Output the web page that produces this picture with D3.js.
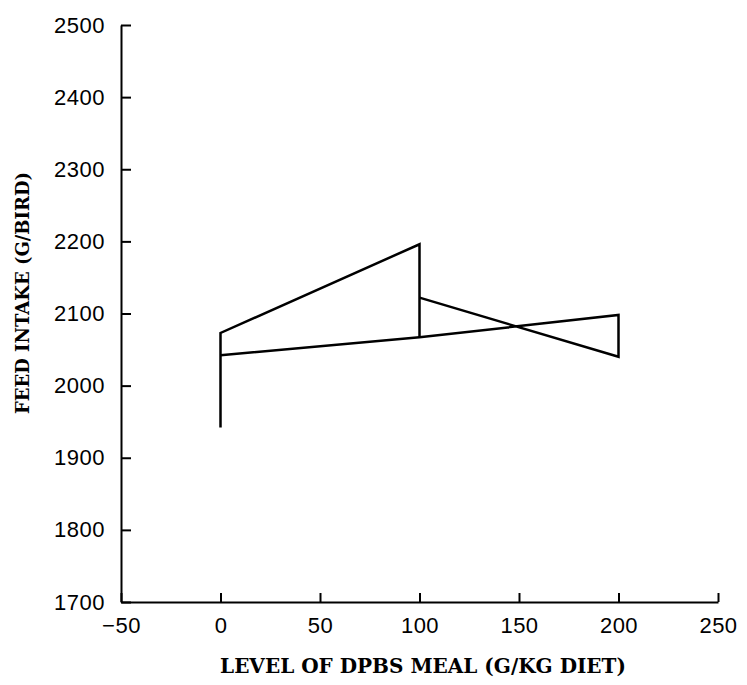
<!DOCTYPE html>
<html lang="en">
<head>
<meta charset="utf-8">
<title>Feed intake vs level of DPBS meal</title>
<script src="https://d3js.org/d3.v7.min.js"></script>
<style>
body { margin: 0; background: #fff; }
.axis path, .axis line { stroke: #000; stroke-width: 2px; }
.axis text { font-family: "Liberation Sans", Arial, sans-serif; font-size: 22px; letter-spacing: 0.5px; fill: #000; }
.line { fill: none; stroke: #000; stroke-width: 2.5px; stroke-linejoin: miter; }
.title { font-family: "DejaVu Serif", "Liberation Serif", serif; font-weight: bold; fill: #000; }
</style>
</head>
<body>
<script>

// two traced polylines
var pathAx = [0, 0, 100, 100];
var pathAy = [1942, 2073, 2196, 2067];
var pathBx = [0, 100, 200, 200, 100];
var pathBy = [2042, 2067, 2098, 2040, 2122];

var xTicks = [-50, 0, 50, 100, 150, 200, 250];
var yTicks = [1700, 1800, 1900, 2000, 2100, 2200, 2300, 2400, 2500];

var margin = {top: 25, right: 29, bottom: 83, left: 121},
    width = 747 - margin.left - margin.right,
    height = 685 - margin.top - margin.bottom;

var x = d3.scaleLinear().domain([-50, 250]).range([0, width]);
var y = d3.scaleLinear().domain([1700, 2500]).range([height, 0]);

var svg = d3.select("body").append("svg")
    .attr("width", 747)
    .attr("height", 685)
  .append("g")
    .attr("transform", "translate(" + margin.left + "," + margin.top + ")");

svg.append("g")
    .attr("class", "axis")
    .attr("transform", "translate(0," + height + ")")
    .call(d3.axisBottom(x).tickValues(xTicks).tickSizeInner(-9).tickSizeOuter(0).tickPadding(15)
      .tickFormat(function(d) { return d < 0 ? "\u2212" + Math.abs(d) : d; }));

svg.append("g")
    .attr("class", "axis")
    .call(d3.axisLeft(y).tickValues(yTicks).tickSizeInner(-10).tickSizeOuter(0).tickPadding(16)
      .tickFormat(d3.format("d")));

var valueline = d3.line()
    .x(function(d) { return x(d[0]); })
    .y(function(d) { return y(d[1]); });

[d3.zip(pathAx, pathAy), d3.zip(pathBx, pathBy)].forEach(function(pts) {
  svg.append("path")
      .datum(pts)
      .attr("class", "line")
      .attr("d", valueline);
});

svg.append("text")
    .attr("class", "title")
    .attr("x", 423 - margin.left)
    .attr("y", height + 71)
    .style("font-size", "20px")
    .style("text-anchor", "middle")
    .text("LEVEL OF DPBS MEAL (G/KG DIET)");

svg.append("text")
    .attr("class", "title")
    .attr("transform", "rotate(-90)")
    .attr("x", -(293 - margin.top))
    .attr("y", -margin.left + 29)
    .style("font-size", "18px")
    .style("text-anchor", "middle")
    .text("FEED INTAKE (G/BIRD)");

</script>
</body>
</html>
